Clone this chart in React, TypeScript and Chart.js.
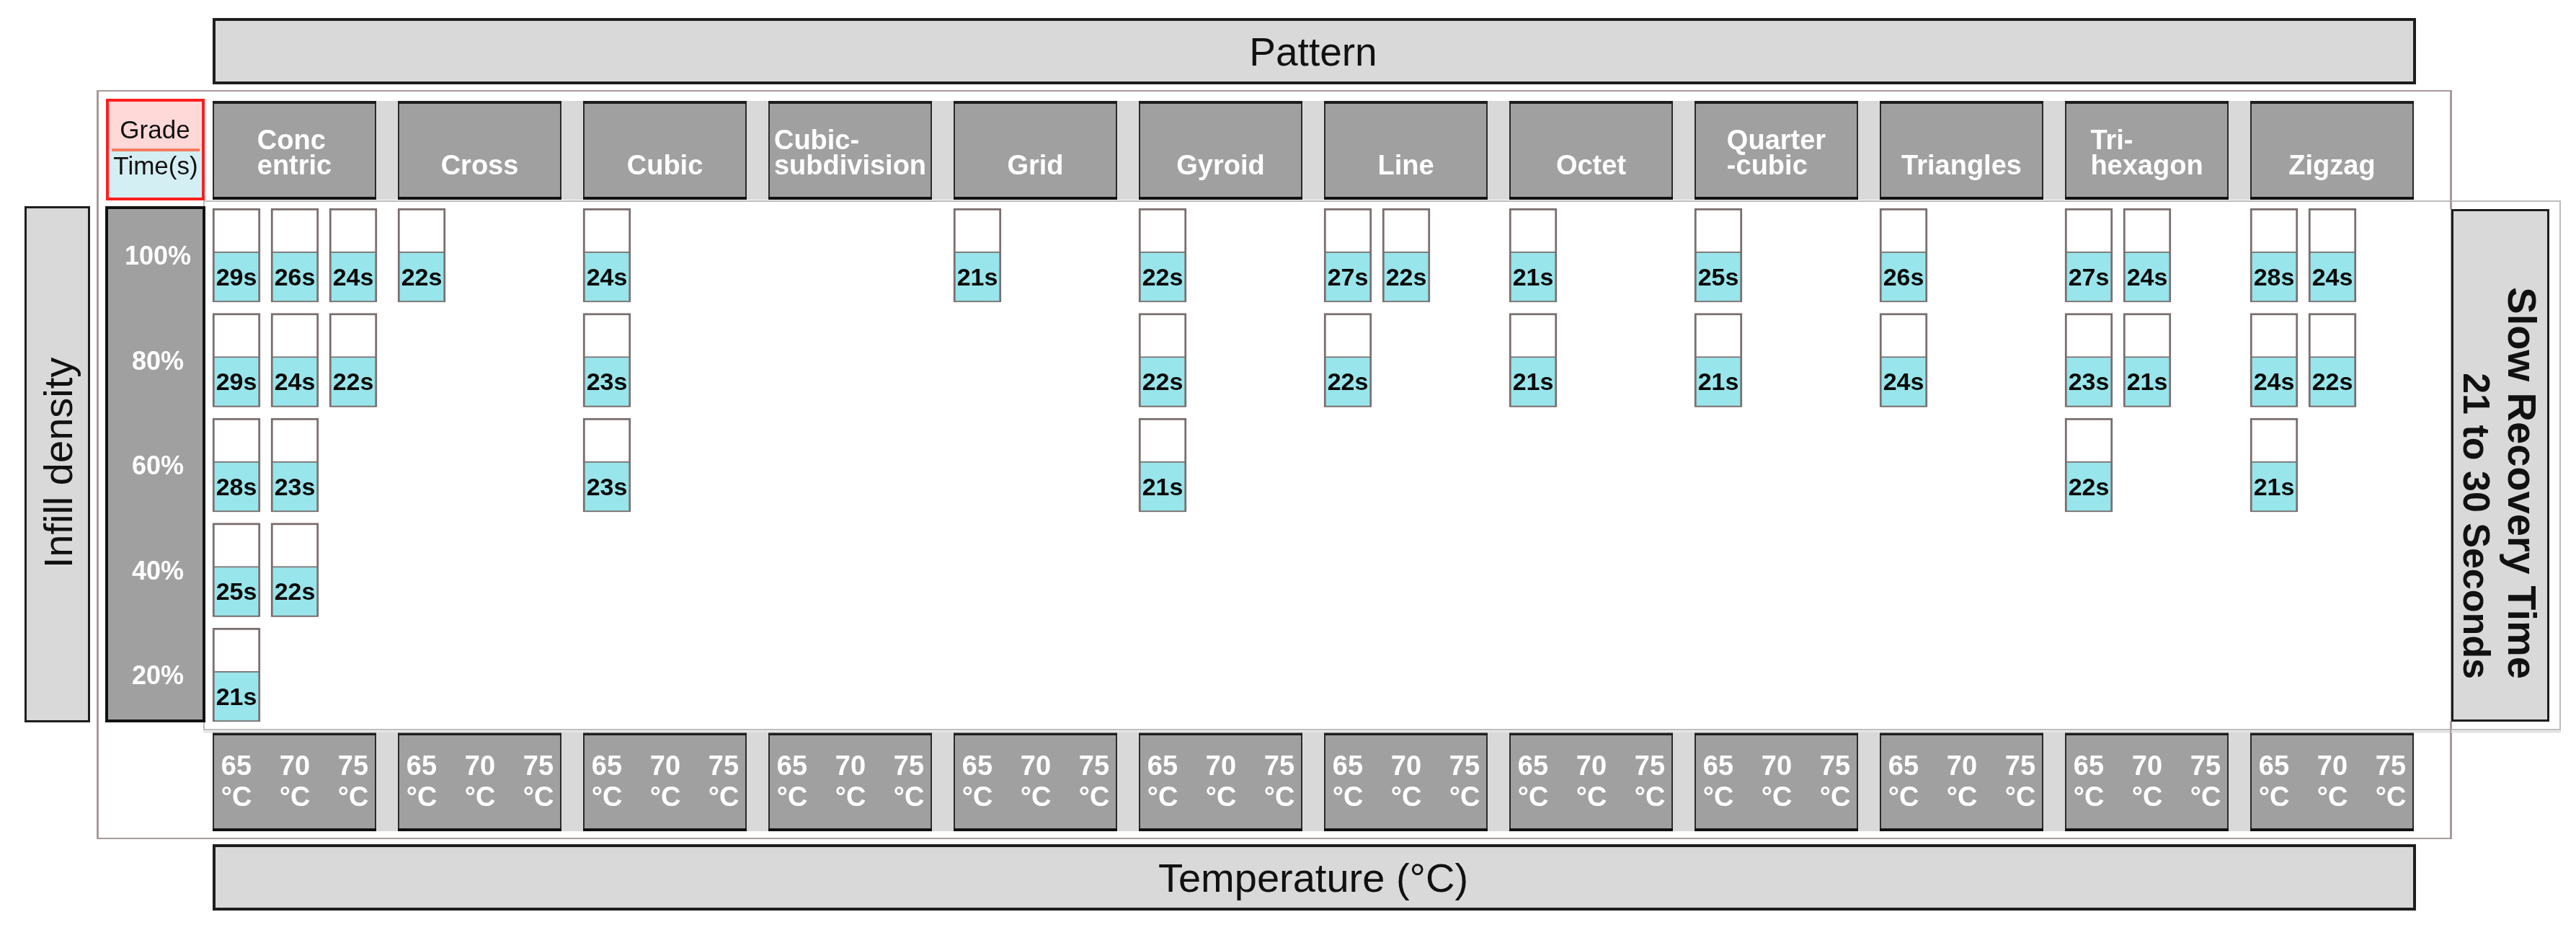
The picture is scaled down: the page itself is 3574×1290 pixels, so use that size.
import React, { useEffect, useRef } from 'react';
import { Chart, registerables } from 'chart.js';

Chart.register(...registerables);

const _ = null;

// ---------- data ----------
const PATTERNS = [
  'Conc\nentric', 'Cross', 'Cubic', 'Cubic-\nsubdivision', 'Grid', 'Gyroid',
  'Line', 'Octet', 'Quarter\n-cubic', 'Triangles', 'Tri-\nhexagon', 'Zigzag',
];
const TEMPERATURES = ['65', '70', '75'];
const TEMP_UNIT = '°C';
const DENSITIES = [100, 80, 60, 40, 20];
const DENSITY_LABELS = ['100%', '80%', '60%', '40%', '20%'];

// recovery time (s) per pattern x temperature (65,70,75) for each infill density
const TIMES_100 = [29, 26, 24, 22, _, _, 24, _, _, _, _, _, 21, _, _, 22, _, _, 27, 22, _, 21, _, _, 25, _, _, 26, _, _, 27, 24, _, 28, 24, _];
const TIMES_80 = [29, 24, 22, _, _, _, 23, _, _, _, _, _, _, _, _, 22, _, _, 22, _, _, 21, _, _, 21, _, _, 24, _, _, 23, 21, _, 24, 22, _];
const TIMES_60 = [28, 23, _, _, _, _, 23, _, _, _, _, _, _, _, _, 21, _, _, _, _, _, _, _, _, _, _, _, _, _, _, 22, _, _, 21, _, _];
const TIMES_40 = [25, 22, _, _, _, _, _, _, _, _, _, _, _, _, _, _, _, _, _, _, _, _, _, _, _, _, _, _, _, _, _, _, _, _, _, _];
const TIMES_20 = [21, _, _, _, _, _, _, _, _, _, _, _, _, _, _, _, _, _, _, _, _, _, _, _, _, _, _, _, _, _, _, _, _, _, _, _];
const TIMES_BY_DENSITY = [TIMES_100, TIMES_80, TIMES_60, TIMES_40, TIMES_20];

const TITLE_TOP = 'Pattern';
const TITLE_BOTTOM = 'Temperature (°C)';
const TITLE_LEFT = 'Infill density';
const GRADE_LABEL = 'Grade';
const TIME_LABEL = 'Time(s)';
const SIDE_LINES = ['Slow Recovery Time', '21 to 30 Seconds'];

// ---------- layout ----------
const W = 3574;
const H = 1290;
const FONT = '"Liberation Sans", Arial, Helvetica, sans-serif';
const PX_PER_SLOT = 81;
const TILE_PX = 257;
const TILE_PITCH = TILE_PX / PX_PER_SLOT;
const SLOT0_PX = 328;
const PLOT = { l: 282, r: 3553, t: 278, b: 1013 };
const PX_PER_PCT = 7.275;
const Y100_PX = 354;
const CELL_HALF = 8.93;
const FILL_TOP = 0.69;

const X_MIN = (PLOT.l - SLOT0_PX) / PX_PER_SLOT;
const X_MAX = (PLOT.r - SLOT0_PX) / PX_PER_SLOT;
const Y_MAX = 100 + (Y100_PX - PLOT.t) / PX_PER_PCT;
const Y_MIN = 100 - (PLOT.b - Y100_PX) / PX_PER_PCT;

type Cell = { x: number; d: number; t: number };

function buildCells(): Cell[] {
  const cells: Cell[] = [];
  TIMES_BY_DENSITY.forEach((row, r) => {
    row.forEach((v, j) => {
      if (v === null) return;
      const k = Math.floor(j / TEMPERATURES.length);
      const i = j % TEMPERATURES.length;
      cells.push({ x: k * TILE_PITCH + i, d: DENSITIES[r], t: v as number });
    });
  });
  return cells;
}

function rect(ctx: CanvasRenderingContext2D, x0: number, y0: number, x1: number, y1: number, fill: string | null, stroke: string | null, lw: number) {
  if (fill) {
    ctx.fillStyle = fill;
    ctx.fillRect(x0, y0, x1 - x0, y1 - y0);
  }
  if (stroke) {
    ctx.strokeStyle = stroke;
    ctx.lineWidth = lw;
    ctx.strokeRect(x0 + lw / 2, y0 + lw / 2, x1 - x0 - lw, y1 - y0 - lw);
  }
}

function hline(ctx: CanvasRenderingContext2D, x0: number, x1: number, y: number, color: string, lw: number) {
  ctx.strokeStyle = color;
  ctx.lineWidth = lw;
  ctx.beginPath();
  ctx.moveTo(x0, y);
  ctx.lineTo(x1, y);
  ctx.stroke();
}

function makeFramePlugin(cells: Cell[]) {
  return {
    id: 'frame',
    beforeDraw(chart: any) {
      const ctx: CanvasRenderingContext2D = chart.ctx;
      const xs = chart.scales.x;
      const ys = chart.scales.y;
      ctx.save();
      ctx.fillStyle = '#ffffff';
      ctx.fillRect(0, 0, W, H);

      const tileLeft = (k: number) => xs.getPixelForValue(k * TILE_PITCH) - 33;
      const TW = 227;
      const firstL = tileLeft(0);
      const lastR = tileLeft(PATTERNS.length - 1) + TW;

      // outer thin frame
      ctx.strokeStyle = '#a89a9a';
      ctx.lineWidth = 2;
      ctx.strokeRect(135, 126, 3401 - 135, 1163 - 126);

      // Pattern title box
      rect(ctx, firstL, 25, lastR + 3, 117, '#d9d9d9', '#1e1e1e', 4);
      ctx.fillStyle = '#111';
      ctx.font = `55px ${FONT}`;
      ctx.textAlign = 'center';
      ctx.textBaseline = 'alphabetic';
      ctx.fillText(TITLE_TOP, (firstL + lastR) / 2, 91);

      // Temperature title box
      rect(ctx, firstL, 1171, lastR + 3, 1263, '#d9d9d9', '#1e1e1e', 4);
      ctx.fillStyle = '#111';
      ctx.font = `56px ${FONT}`;
      ctx.fillText(TITLE_BOTTOM, (firstL + lastR) / 2, 1237);

      // Grade / Time(s) legend box
      ctx.fillStyle = '#ffd8d8';
      ctx.fillRect(148, 138, 135, 70);
      ctx.fillStyle = '#d4eff3';
      ctx.fillRect(148, 208, 135, 69);
      hline(ctx, 155, 277, 208, '#f27c5e', 4);
      rect(ctx, 147, 137, 284, 278, null, '#ff1e1e', 4);
      ctx.fillStyle = '#111';
      ctx.font = `35px ${FONT}`;
      ctx.fillText(GRADE_LABEL, 215, 192);
      ctx.fillText(TIME_LABEL, 216, 242);

      // header strip (patterns) and bottom strip (temperatures)
      const strips = [
        { t: 140, b: 277 },
        { t: 1016, b: 1153 },
      ];
      strips.forEach((s) => {
        ctx.fillStyle = '#d9d9d9';
        ctx.fillRect(firstL, s.t, lastR - firstL, s.b - s.t);
        for (let k = 0; k < PATTERNS.length; k++) {
          const l = tileLeft(k);
          ctx.fillStyle = '#a0a0a0';
          ctx.fillRect(l, s.t, TW, s.b - s.t);
          ctx.strokeStyle = '#2b2b2b';
          ctx.lineWidth = 2;
          ctx.strokeRect(l + 1, s.t + 1, TW - 2, s.b - s.t - 2);
          hline(ctx, l, l + TW, s.t + 2, '#1e1e1e', 4);
          hline(ctx, l, l + TW, s.b - 2, '#111', 4);
        }
      });

      // pattern names
      ctx.fillStyle = '#ffffff';
      ctx.font = `bold 38px ${FONT}`;
      PATTERNS.forEach((name, k) => {
        const lines = name.split('\n');
        const cx = tileLeft(k) + TW / 2;
        const wMax = Math.max(...lines.map((ln) => ctx.measureText(ln).width));
        ctx.textAlign = 'left';
        lines.forEach((ln, li) => {
          const base = 242 - (lines.length - 1 - li) * 35;
          ctx.fillText(ln, cx - wMax / 2, base);
        });
      });

      // temperature labels
      ctx.textAlign = 'center';
      ctx.font = `bold 38px ${FONT}`;
      PATTERNS.forEach((_n, k) => {
        TEMPERATURES.forEach((t, i) => {
          const px = xs.getPixelForValue(k * TILE_PITCH + i);
          ctx.fillText(t, px, 1075);
          ctx.fillText(TEMP_UNIT, px, 1118);
        });
      });

      // inner panel
      ctx.strokeStyle = '#bdbdbd';
      ctx.lineWidth = 2;
      ctx.strokeRect(PLOT.l + 1, PLOT.t + 1, PLOT.r - PLOT.l - 2, PLOT.b - PLOT.t - 2);
      hline(ctx, PLOT.l, PLOT.r, PLOT.b + 2, '#e2e2e2', 3);

      // Infill density box
      rect(ctx, 34, 286, 125, 1002, '#d9d9d9', '#1e1e1e', 3);
      ctx.save();
      ctx.translate(100, 642);
      ctx.rotate(-Math.PI / 2);
      ctx.fillStyle = '#111';
      ctx.font = `56px ${FONT}`;
      ctx.textAlign = 'center';
      ctx.textBaseline = 'alphabetic';
      ctx.fillText(TITLE_LEFT, 0, 0);
      ctx.restore();

      // density label column
      rect(ctx, 146, 286, 285, 1002, '#a0a0a0', '#111', 4);
      ctx.fillStyle = '#ffffff';
      ctx.font = `bold 36px ${FONT}`;
      ctx.textAlign = 'center';
      DENSITIES.forEach((d, r) => {
        ctx.fillText(DENSITY_LABELS[r], 219, ys.getPixelForValue(d) + 13);
      });

      // side note box
      rect(ctx, 3401, 290, 3537, 1001, '#d9d9d9', '#1e1e1e', 3);
      ctx.fillStyle = '#111';
      const sideX = [3480, 3418];
      const sideSize = [56, 52];
      SIDE_LINES.forEach((ln, li) => {
        ctx.save();
        ctx.translate(sideX[li], 942);
        ctx.rotate(Math.PI / 2);
        ctx.font = `bold ${sideSize[li]}px ${FONT}`;
        ctx.textAlign = 'right';
        ctx.textBaseline = 'alphabetic';
        ctx.fillText(ln, 0, 0);
        ctx.restore();
      });

      // outer frame verticals drawn through the panel
      ctx.strokeStyle = '#a89a9a';
      ctx.lineWidth = 2;
      ctx.beginPath();
      ctx.moveTo(136, 126);
      ctx.lineTo(136, 1163);
      ctx.moveTo(3400, 126);
      ctx.lineTo(3400, 290);
      ctx.moveTo(3400, 1001);
      ctx.lineTo(3400, 1163);
      ctx.stroke();

      ctx.restore();
    },
    afterDatasetsDraw(chart: any) {
      const ctx: CanvasRenderingContext2D = chart.ctx;
      const meta = chart.getDatasetMeta(0);
      if (!meta || !meta.data) return;
      ctx.save();
      ctx.fillStyle = '#0a0a0a';
      ctx.font = `bold 34px ${FONT}`;
      ctx.textAlign = 'center';
      ctx.textBaseline = 'alphabetic';
      meta.data.forEach((el: any, idx: number) => {
        const c = cells[idx];
        if (!c) return;
        const yc = (el.y + el.base) / 2;
        ctx.fillText(`${c.t}s`, el.x, yc + 12);
      });
      ctx.restore();
    },
  };
}

export default function App() {
  const ref = useRef<HTMLCanvasElement | null>(null);
  useEffect(() => {
    if (!ref.current) return;
    const cells = buildCells();
    const chart = new Chart(ref.current, {
      type: 'bar',
      data: {
        datasets: [
          {
            label: 'Time',
            data: cells.map((c) => ({ x: c.x, y: [c.d - CELL_HALF, c.d + FILL_TOP] })) as any,
            backgroundColor: '#98e5eb',
            borderColor: '#7a7171',
            borderWidth: 2,
            borderSkipped: false,
            barThickness: 64,
            grouped: false,
            order: 1,
          } as any,
          {
            label: 'Gauge',
            data: cells.map((c) => ({ x: c.x, y: [c.d - CELL_HALF, c.d + CELL_HALF] })) as any,
            backgroundColor: '#ffffff',
            borderColor: '#7a6e6e',
            borderWidth: 3,
            borderSkipped: false,
            barThickness: 66,
            grouped: false,
            order: 2,
          } as any,
        ],
      },
      options: {
        responsive: false,
        maintainAspectRatio: false,
        devicePixelRatio: 1,
        animation: false,
        layout: { padding: { left: PLOT.l, right: W - PLOT.r, top: PLOT.t, bottom: H - PLOT.b } },
        plugins: { legend: { display: false }, tooltip: { enabled: false } },
        scales: {
          x: { type: 'linear', min: X_MIN, max: X_MAX, offset: false, display: false },
          y: { type: 'linear', min: Y_MIN, max: Y_MAX, offset: false, display: false },
        },
      },
      plugins: [makeFramePlugin(cells) as any],
    });
    return () => chart.destroy();
  }, []);
  return (
    <div style={{ position: 'absolute', left: 0, top: 0, width: W, height: H }}>
      <canvas ref={ref} width={W} height={H} style={{ width: W, height: H, display: 'block' }} />
    </div>
  );
}
